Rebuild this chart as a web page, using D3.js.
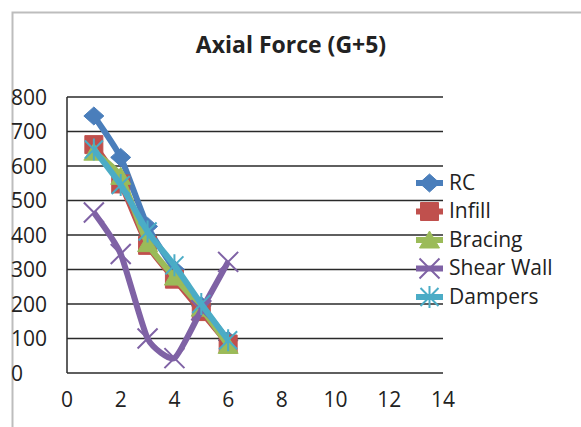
<!DOCTYPE html>
<html lang="en">
<head>
    <meta charset="UTF-8">
    <title>Axial Force (G+5)</title>
    <script src="https://d3js.org/d3.v7.min.js"></script>
    <style>
        body { margin: 0; background: #fff; }
        text { font-family: "Open Sans", sans-serif; fill: #222; }
        .grid line { stroke: #2a2a2a; stroke-width: 1.5px; }
    </style>
</head>
<body>
    <div id="chart"></div>
    <script>
    // data
    const storeys = [1, 2, 3, 4, 5, 6];
    const rc = [745, 625, 425, 300, 195, 95];
    const infill = [662, 548, 370, 272, 178, 84];
    const bracing = [640, 570, 375, 278, 188, 80];
    const shearWall = [465, 345, 100, 43, 182, 322];
    const dampers = [648, 545, 410, 312, 200, 95];

    const seriesNames = ["RC", "Infill", "Bracing", "Shear Wall", "Dampers"];
    const seriesValues = [rc, infill, bracing, shearWall, dampers];
    const colors = ["#4a7ebb", "#c0504d", "#9bbb59", "#7f62a5", "#4bacc6"];
    const markers = ["diamond", "square", "triangle", "cross", "star"];

    const xTicks = [0, 2, 4, 6, 8, 10, 12, 14];
    const yTicks = [0, 100, 200, 300, 400, 500, 600, 700, 800];

    const width = 581, height = 427;

    const svg = d3.select("#chart").append("svg")
        .attr("width", width)
        .attr("height", height);

    // outer chart border (only top and left visible)
    svg.append("path")
        .attr("d", "M12.5,427 V12.5 H581")
        .attr("fill", "none")
        .attr("stroke", "#bdbdbd")
        .attr("stroke-width", 2);

    const x = d3.scaleLinear().domain([0, 14]).range([67, 443]);
    const y = d3.scaleLinear().domain([0, 800]).range([373, 97]);

    svg.append("text")
        .attr("x", 291)
        .attr("y", 53)
        .attr("text-anchor", "middle")
        .style("font-size", "23px")
        .style("font-weight", "bold")
        .text("Axial Force (G+5)");

    // horizontal gridlines
    svg.append("g")
        .attr("class", "grid")
        .selectAll("line")
        .data(yTicks)
        .enter().append("line")
        .attr("x1", x(0))
        .attr("x2", x(14))
        .attr("y1", d => y(d))
        .attr("y2", d => y(d));

    // y axis line
    svg.append("line")
        .attr("x1", x(0)).attr("x2", x(0))
        .attr("y1", y(800)).attr("y2", y(0))
        .attr("stroke", "#2a2a2a")
        .attr("stroke-width", 1.5);

    // tick labels
    svg.append("g")
        .selectAll("text")
        .data(yTicks)
        .enter().append("text")
        .attr("x", 11)
        .attr("y", d => y(d) + 2)
        .attr("dominant-baseline", "middle")
        .style("font-size", "21px")
        .text(d => d);

    svg.append("g")
        .selectAll("text")
        .data(xTicks)
        .enter().append("text")
        .attr("x", d => x(d))
        .attr("y", 401)
        .attr("text-anchor", "middle")
        .attr("dominant-baseline", "middle")
        .style("font-size", "21px")
        .text(d => d);

    function markerPath(type) {
        if (type === "diamond") return "M0,-9L10,0L0,9L-10,0Z";
        if (type === "square") return "M-9,-9H9V9H-9Z";
        if (type === "triangle") return "M0,-9L10,8H-10Z";
        if (type === "cross") return "M-10,-10L10,10M-10,10L10,-10";
        return "M-9,-9L9,9M-9,9L9,-9M0,-11V11";
    }

    function drawMarker(g, type, color) {
        const filled = type === "diamond" || type === "square" || type === "triangle";
        g.append("path")
            .attr("d", markerPath(type))
            .attr("fill", filled ? color : "none")
            .attr("stroke", color)
            .attr("stroke-width", filled ? 1 : 2);
    }

    const line = d3.line()
        .x((d, i) => x(storeys[i]))
        .y(d => y(d))
        .curve(d3.curveCardinal.tension(0.45));

    seriesValues.forEach((vals, s) => {
        const g = svg.append("g");
        g.append("path")
            .attr("d", line(vals))
            .attr("fill", "none")
            .attr("stroke", colors[s])
            .attr("stroke-width", 6)
            .attr("stroke-linejoin", "round");

        g.selectAll("g")
            .data(vals)
            .enter().append("g")
            .attr("transform", (d, i) => `translate(${x(storeys[i])},${y(d)})`)
            .each(function () {
                drawMarker(d3.select(this), markers[s], colors[s]);
            });
    });

    // legend
    const legend = svg.append("g");
    seriesNames.forEach((name, s) => {
        const ly = 183 + s * 28.5;
        legend.append("line")
            .attr("x1", 416).attr("x2", 443)
            .attr("y1", ly).attr("y2", ly)
            .attr("stroke", colors[s])
            .attr("stroke-width", 6);
        const mg = legend.append("g").attr("transform", `translate(429.5,${ly})`);
        drawMarker(mg, markers[s], colors[s]);
        legend.append("text")
            .attr("x", 449)
            .attr("y", ly + 1)
            .attr("dominant-baseline", "middle")
            .style("font-size", "21px")
            .text(name);
    });
    </script>
</body>
</html>
